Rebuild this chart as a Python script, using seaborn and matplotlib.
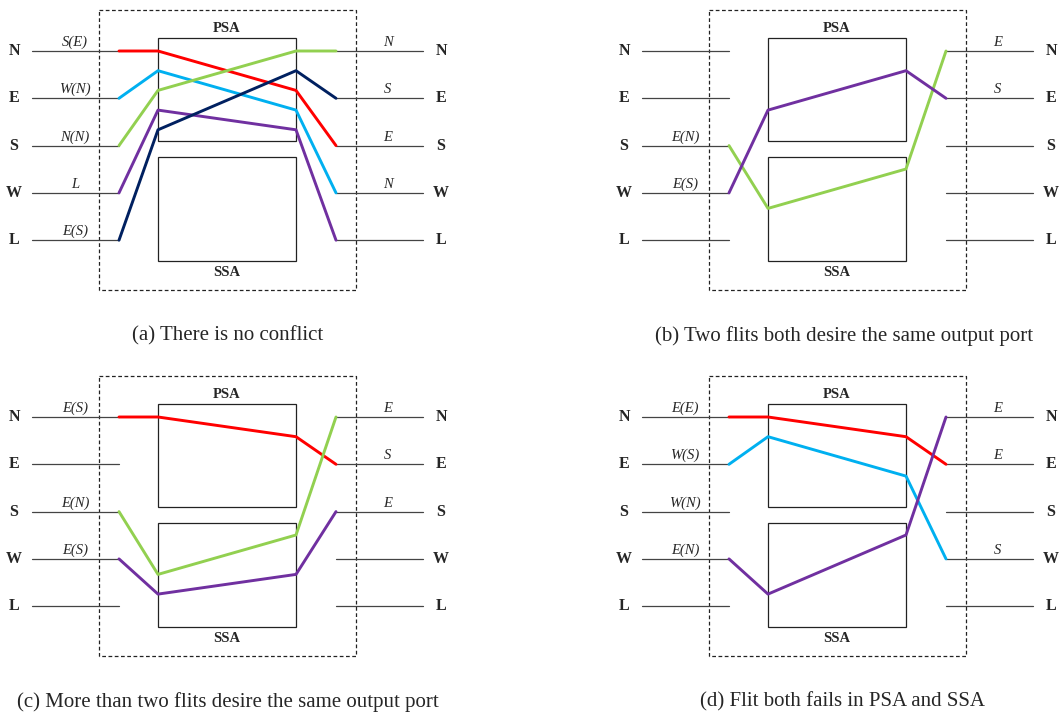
import pandas as pd
import numpy as np
import matplotlib.pyplot as plt
import seaborn as sns

sns.set_theme(style='white')
plt.rcParams['font.family'] = ['Liberation Serif', 'DejaVu Serif']

# =============================
# Data
# =============================
PORTS = ['N', 'E', 'S', 'W', 'L']

COLORS = {
    'red': '#FF0000',
    'cyan': '#00B0F0',
    'green': '#92D050',
    'purple': '#7030A0',
    'navy': '#002060',
}

captions = [
    '(a) There is no conflict',
    '(b) Two flits both desire the same output port',
    '(c) More than two flits desire the same output port',
    '(d) Flit both fails in PSA and SSA',
]

# text written over the input / output port lines (None = blank)
left_labels = [
    ['S(E)', 'W(N)', 'N(N)', 'L', 'E(S)'],
    [None, None, 'E(N)', 'E(S)', None],
    ['E(S)', None, 'E(N)', 'E(S)', None],
    ['E(E)', 'W(S)', 'W(N)', 'E(N)', None],
]
right_labels = [
    ['N', 'S', 'E', 'N', None],
    ['E', 'S', None, None, None],
    ['E', 'S', 'E', None, None],
    ['E', 'E', None, 'S', None],
]

# flits: (colour, input port, arbiter slot on entry, arbiter slot on exit, output port)
# slots 'P0'..'P4' sit in the PSA box, 'S0'..'S4' in the SSA box
flits = [
    [('red', 'N', 'P0', 'P2', 'S'),
     ('cyan', 'E', 'P1', 'P3', 'W'),
     ('green', 'S', 'P2', 'P0', 'N'),
     ('purple', 'W', 'P3', 'P4', 'L'),
     ('navy', 'L', 'P4', 'P1', 'E')],
    [('green', 'S', 'S2', 'S0', 'N'),
     ('purple', 'W', 'P3', 'P1', 'E')],
    [('red', 'N', 'P0', 'P1', 'E'),
     ('green', 'S', 'S2', 'S0', 'N'),
     ('purple', 'W', 'S3', 'S2', 'S')],
    [('red', 'N', 'P0', 'P1', 'E'),
     ('cyan', 'E', 'P1', 'P3', 'W'),
     ('purple', 'W', 'S3', 'S0', 'N')],
]

# =============================
# Layout (panel-local pixel units)
# =============================
ROW_Y0 = 51
ROW_STEP = 47.3
SLOT_STEP = 19.7
SSA_OFFSET = 118

IN_LINE = (32, 119)
OUT_LINE = (336, 423)
BOX_X = (158, 296)
PSA_Y = (38, 141)
SSA_Y = (157, 261)
DASH_X = (99, 356)
DASH_Y = (10, 290)

PANEL_W, PANEL_H = 451, 366
W, H = 1061, 718
panel_origin = [(0, 0), (610, 0), (0, 366), (610, 366)]
caption_x = [228, 234, 228, 233]


def row_y(port):
    return ROW_Y0 + ROW_STEP * PORTS.index(port)


def slot_y(slot):
    base = ROW_Y0 if slot[0] == 'P' else ROW_Y0 + SSA_OFFSET
    return base + SLOT_STEP * int(slot[1])


fig = plt.figure(figsize=(W / 100, H / 100), dpi=100)

for i, (ox, oy) in enumerate(panel_origin):
    ax = fig.add_axes([ox / W, 1 - (oy + PANEL_H) / H, PANEL_W / W, PANEL_H / H])

    # dashed router outline
    ax.add_patch(plt.Rectangle((DASH_X[0], DASH_Y[0]), DASH_X[1] - DASH_X[0],
                               DASH_Y[1] - DASH_Y[0], fill=False, ls=(0, (3, 2)),
                               lw=0.9, ec='#222222'))
    # PSA / SSA boxes
    for (y0, y1), name, ty in [(PSA_Y, 'PSA', PSA_Y[0] - 10), (SSA_Y, 'SSA', SSA_Y[1] + 11)]:
        ax.add_patch(plt.Rectangle((BOX_X[0], y0), BOX_X[1] - BOX_X[0], y1 - y0,
                                   fill=False, lw=0.9, ec='#222222'))
        ax.text(sum(BOX_X) / 2, ty, name, ha='center', va='center',
                fontsize=10.5, fontweight='bold')

    # port lines and labels
    for j, p in enumerate(PORTS):
        y = row_y(p)
        ax.plot(IN_LINE, [y, y], color='#444444', lw=0.9)
        ax.plot(OUT_LINE, [y, y], color='#444444', lw=0.9)
        ax.text(14, y, p, ha='center', va='center', fontsize=11.5, fontweight='bold')
        ax.text(441, y, p, ha='center', va='center', fontsize=11.5, fontweight='bold')
        if left_labels[i][j]:
            ax.text(75, y - 2, left_labels[i][j], ha='center', va='bottom',
                    fontsize=10.5, style='italic')
        if right_labels[i][j]:
            ax.text(388, y - 2, right_labels[i][j], ha='center', va='bottom',
                    fontsize=10.5, style='italic')

    # flit paths
    rows = []
    for colour, pin, s_in, s_out, pout in flits[i]:
        pts = [(IN_LINE[1], row_y(pin)), (BOX_X[0], slot_y(s_in)),
               (BOX_X[1], slot_y(s_out)), (OUT_LINE[0], row_y(pout))]
        for k, (x, y) in enumerate(pts):
            rows.append({'flit': colour, 'order': k, 'x': x, 'y': y})
    df = pd.DataFrame(rows)
    sns.lineplot(data=df, x='x', y='y', hue='flit', palette=COLORS,
                 estimator=None, sort=False, lw=2.1, legend=False, ax=ax)
    ax.set_xlim(0, PANEL_W)
    ax.set_ylim(PANEL_H, 0)
    ax.axis('off')

    ax.text(caption_x[i], 336, captions[i], ha='center', va='center', fontsize=15)

fig.savefig('out.png', dpi=100)
